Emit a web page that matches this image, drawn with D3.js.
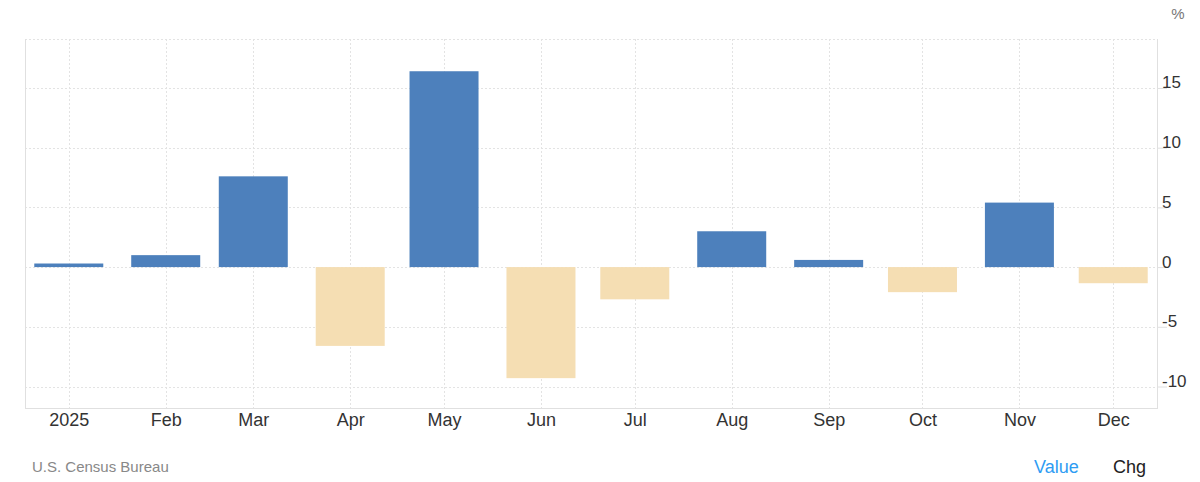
<!DOCTYPE html>
<html><head><meta charset="utf-8">
<script src="https://cdn.jsdelivr.net/npm/d3@7"></script>
<style>body{margin:0;background:#fff;font-family:"Liberation Sans",Arial,sans-serif;}</style>
</head><body><svg id="c" width="1200" height="482"></svg>
<script>
const months = ["2025-01-01","2025-02-01","2025-03-01","2025-04-01","2025-05-01","2025-06-01","2025-07-01","2025-08-01","2025-09-01","2025-10-01","2025-11-01","2025-12-01"];
const monthLabels = ["2025","Feb","Mar","Apr","May","Jun","Jul","Aug","Sep","Oct","Nov","Dec"];
const values = [0.3, 1.0, 7.6, -6.6, 16.4, -9.3, -2.7, 3.0, 0.6, -2.1, 5.4, -1.35];
const yTicks = [-10, -5, 0, 5, 10, 15];

const svg = d3.select("#c");
const L = 25, R = 1157, T = 39, B = 408;
const parse = d3.utcParse("%Y-%m-%d");
const dates = months.map(parse);
const x = d3.scaleUtc().domain([parse("2024-12-18"), parse("2025-12-15")]).range([L, R]);
const y = d3.scaleLinear().domain([-11.8, 19.1]).range([B, T]);
const barW = 69;

// grid
const g = svg.append("g");
g.selectAll(".hg").data(yTicks).join("line")
  .attr("x1", L).attr("x2", R).attr("y1", d => Math.round(y(d)) + 0.5).attr("y2", d => Math.round(y(d)) + 0.5)
  .attr("stroke", "#e3e3e3").attr("stroke-dasharray", "2,2");
g.append("line").attr("x1", L).attr("x2", R).attr("y1", T + 0.5).attr("y2", T + 0.5)
  .attr("stroke", "#e3e3e3").attr("stroke-dasharray", "2,2");
g.selectAll(".vg").data(dates).join("line")
  .attr("x1", d => Math.round(x(d)) + 0.5).attr("x2", d => Math.round(x(d)) + 0.5).attr("y1", T).attr("y2", B)
  .attr("stroke", "#e3e3e3").attr("stroke-dasharray", "2,2");

// bars
svg.append("g").selectAll("rect").data(values).join("rect")
  .attr("x", (d, i) => x(dates[i]) - barW / 2)
  .attr("width", barW)
  .attr("y", d => y(Math.max(0, d)))
  .attr("height", d => Math.abs(y(d) - y(0)))
  .attr("fill", d => d >= 0 ? "#4d80bc" : "#f5deb3");

// frame
svg.append("line").attr("x1", L + 0.5).attr("x2", L + 0.5).attr("y1", T).attr("y2", B + 1).attr("stroke", "#e0e0e0");
svg.append("line").attr("x1", R + 0.5).attr("x2", R + 0.5).attr("y1", T).attr("y2", B + 1).attr("stroke", "#e0e0e0");
svg.append("line").attr("x1", L).attr("x2", R + 1).attr("y1", B + 0.5).attr("y2", B + 0.5).attr("stroke", "#e0e0e0");

// y axis right
const ya = svg.append("g").attr("transform", `translate(${R},0)`)
  .call(d3.axisRight(y).tickValues(yTicks).tickSize(10).tickPadding(0).tickFormat(d => String(d)));
ya.select(".domain").remove();
ya.selectAll(".tick line").attr("stroke", "#e0e0e0");
ya.selectAll(".tick text").attr("x", 5).attr("dy", "0.0em").attr("fill", "#333").style("font-size", "17px").style("font-family", "Liberation Sans, Arial, sans-serif");

// x axis
const xa = svg.append("g").attr("transform", `translate(0,${B})`)
  .call(d3.axisBottom(x).tickValues(dates).tickSize(0).tickPadding(0).tickFormat((d, i) => monthLabels[i]));
xa.select(".domain").remove();
xa.selectAll(".tick text").attr("y", 18).attr("dy", "0").attr("fill", "#333").style("font-size", "18px").style("font-family", "Liberation Sans, Arial, sans-serif");

// unit
svg.append("text").attr("x", 1178).attr("y", 19).attr("text-anchor", "middle").attr("fill", "#777")
  .style("font-size", "15px").text("%");

// source
svg.append("text").attr("x", 32).attr("y", 472).attr("fill", "#888").style("font-size", "15px").text("U.S. Census Bureau");
svg.append("text").attr("x", 1034).attr("y", 473).attr("fill", "#2e9cf3").style("font-size", "18px").text("Value");
svg.append("text").attr("x", 1113).attr("y", 473).attr("fill", "#222").style("font-size", "18px").text("Chg");
</script></body></html>
